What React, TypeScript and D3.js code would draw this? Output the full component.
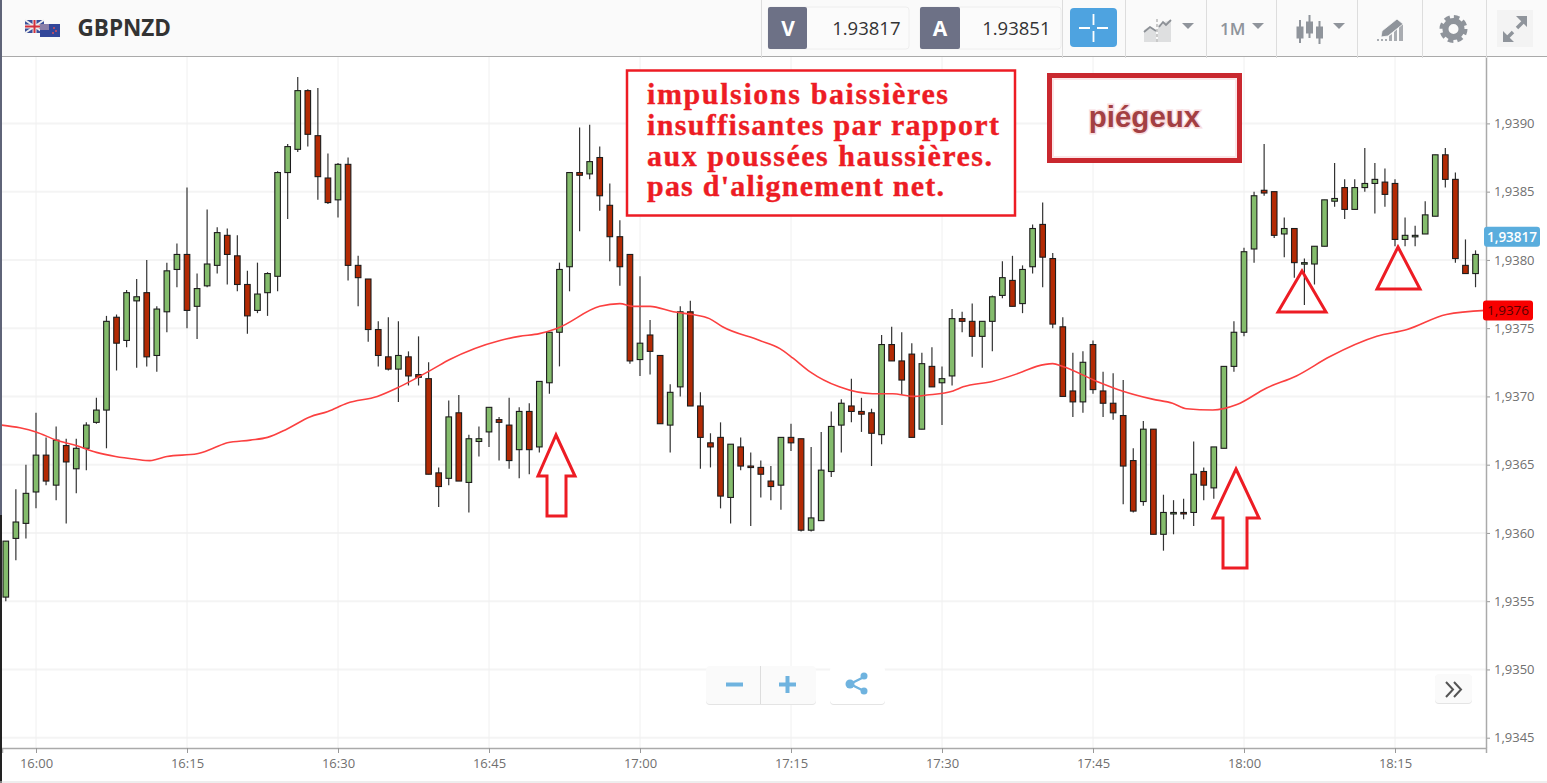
import React, { useEffect, useRef } from "react";
import * as d3 from "d3";

// quotes are stored in points above 1.93000 (817 -> 1.93817), one candle per minute
const BASE_PRICE = 1.93;
const FIRST_MINUTE = -3; // first candle is 15:57

const opens = [
  553,596,607,630,657,635,664,647,662,681,
  690,758,741,770,776,730,762,793,804,766,
  781,796,818,803,782,763,776,788,864,881,
  924,891,860,844,870,796,786,749,729,720,
  729,716,713,644,640,688,637,667,674,683,
  679,661,689,663,710,747,795,864,863,875,
  840,817,804,727,745,730,679,707,762,693,
  666,670,626,663,649,648,638,635,670,669,
  602,609,645,679,693,689,688,672,738,726,
  731,676,722,710,715,757,755,744,755,774,
  785,768,795,826,801,751,704,696,738,704,
  695,686,653,623,676,599,614,615,615,645,
  633,662,722,747,808,851,850,819,823,797,
  797,810,843,853,837,853,856,857,856,815,
  817,819,832,877,859,796,790,
];
const highs = [
  594,632,650,688,670,678,669,669,681,699,
  759,760,778,786,800,766,798,812,853,790,
  837,824,823,818,792,798,791,865,885,934,
  925,926,878,871,875,803,786,755,758,755,
  733,744,725,648,697,701,672,678,692,685,
  699,692,695,711,747,798,864,897,899,883,
  856,829,804,788,756,730,709,766,770,703,
  673,681,665,670,659,653,649,670,680,669,
  663,674,689,698,713,699,691,745,751,747,
  739,732,736,722,764,762,768,755,774,799,
  803,796,826,842,805,758,732,733,741,718,
  717,712,662,682,676,628,624,625,667,648,
  663,722,755,809,850,885,850,831,823,801,
  810,844,871,859,859,882,871,867,859,831,
  825,843,877,882,864,815,807,
];
const lows = [
  550,580,596,618,635,624,607,629,646,680,
  662,719,736,721,722,718,747,780,750,742,
  780,790,782,777,746,761,759,777,830,879,
  883,844,841,831,785,766,740,722,719,696,
  708,708,643,619,635,638,615,656,663,653,
  647,640,643,659,702,722,777,821,859,836,
  799,781,724,715,716,680,659,700,693,647,
  648,618,607,646,605,626,624,617,660,601,
  601,609,641,659,681,674,649,665,726,701,
  670,676,707,679,708,747,729,721,733,772,
  766,761,790,780,750,700,685,688,702,685,
  683,621,615,620,599,587,599,610,605,624,
  625,662,718,744,798,847,816,802,787,767,
  782,810,839,830,837,850,834,839,810,810,
  810,819,832,853,798,790,780,
];
const closes = [
  594,608,629,657,638,668,652,662,679,690,
  755,739,776,773,729,764,792,804,763,779,
  797,820,804,782,759,775,790,864,883,924,
  892,861,842,870,796,787,749,730,720,730,
  715,714,643,634,685,638,669,669,692,681,
  653,689,661,711,747,793,864,862,872,847,
  817,795,726,739,733,680,703,762,693,670,
  663,627,665,649,648,643,634,670,666,602,
  611,646,678,695,689,687,673,738,726,712,
  670,724,707,713,757,755,744,755,773,787,
  766,793,823,802,753,700,696,725,705,695,
  688,649,616,676,599,615,615,614,643,635,
  663,722,747,806,847,849,818,823,798,798,
  810,844,845,837,853,856,859,848,815,818,
  818,833,877,859,801,790,804,
];

const maMinutes = [
  -3.4,-1.6,0,2,4,6,7.9,9.9,11.3,12,13,16,17.6,19,21.3,23,24.9,27.2,29,30.9,33.9,36.1,39.4,41.1,
  46.1,48,50,51.8,56,58,59.3,61,63.3,65.2,66.9,68.2,71.9,73.9,75.2,76.9,79.8,83.1,85.1,87.1,88.5,
  91.1,92.1,95,98,99.4,101,102,105.4,107.9,110.9,112.9,114.3,116.9,119.3,122.2,125.2,128.5,133.2,
  136.2,140.1,144,
];
const maValues = [
  679,677,674,668,664,659,656,654,653,654,656,658,662,666,668,670,676,685,689,695,700,707,720,727,
  741,744,746,750,766,768,766,766,762,760,757,751,741,735,728,718,707,702,702,700,701,
  704,707,711,718,722,724,722,711,704,698,695,691,690,694,706,715,729,744,
  749,760,763,
];

const priceTicks = [1.9345, 1.935, 1.9355, 1.936, 1.9365, 1.937, 1.9375, 1.938, 1.9385, 1.939];
const timeTicks = [0, 15, 30, 45, 60, 75, 90, 105, 120, 135];
const timeLabels = ["16:00", "16:15", "16:30", "16:45", "17:00", "17:15", "17:30", "17:45", "18:00", "18:15"];
const noteLines = [
  "impulsions baissières",
  "insuffisantes par rapport",
  "aux poussées haussières.",
  "pas d'alignement net.",
];
const bidQuote = "1.93817";
const askQuote = "1.93851";
const bidPoints = 817;

const UI_FONT = "'Open Sans', sans-serif";
const ICON = "#8f949b";
const SEPARATORS = [761, 1062, 1125, 1206, 1276, 1357, 1422, 1486];

const pt = (p: number) => BASE_PRICE + p / 1e5;
const comma = (v: number, digits: number) => v.toFixed(digits).replace(".", ",");

const Caret = ({ x, y }: { x: number; y: number }) => (
  <path d={`M${x},${y}h12l-6,6z`} fill={ICON} />
);

const Toolbar = () => (
  <g fontFamily={UI_FONT}>
    <rect x={0} y={0} width={1547} height={56} fill="#fafafa" />
    <line x1={0} x2={1547} y1={56.5} y2={56.5} stroke="#aaa" />
    {SEPARATORS.map((x) => (
      <line key={x} x1={x + 0.5} x2={x + 0.5} y1={0} y2={58} stroke="#ddd" />
    ))}
    {/* flags */}
    <g>
      <rect x={25} y={20} width={19} height={13} fill="#3a4f9a" />
      <path d="M25,20L44,33M44,20L25,33" stroke="#eee" strokeWidth={2} />
      <path d="M34.5,20V33M25,26.500H44" stroke="#eee" strokeWidth={4} />
      <path d="M34.5,20V33M25,26.500H44" stroke="#d3313c" strokeWidth={2} />
      <rect x={40} y={24} width={20} height={13} fill="#33479a" />
      <rect x={40} y={24} width={9} height={6} fill="#8a7fa8" />
      <circle cx={54} cy={28} r={1} fill="#d9505c" />
      <circle cx={56} cy={31} r={1} fill="#d9505c" />
      <circle cx={53} cy={33} r={1} fill="#d9505c" />
    </g>
    <text x={77.5} y={36} fontSize={22.5} fontWeight={700} fill="#333">GBPNZD</text>

    {/* bid / ask */}
    <rect x={768} y={7} width={141} height={42} rx={3} fill="#fbfbfb" stroke="#eee" />
    <rect x={768} y={7} width={39} height={42} rx={2} fill="#6d7186" />
    <text x={788} y={35.500} fontSize={21} fontWeight={700} fill="#fff" textAnchor="middle">V</text>
    <text x={900.5} y={34.500} fontSize={18.5} fill="#333" textAnchor="end">{bidQuote}</text>
    <rect x={920} y={7} width={141} height={42} rx={3} fill="#fbfbfb" stroke="#eee" />
    <rect x={920} y={7} width={40} height={42} rx={2} fill="#6d7186" />
    <text x={940} y={35.500} fontSize={21} fontWeight={700} fill="#fff" textAnchor="middle">A</text>
    <text x={1050.5} y={34.500} fontSize={18.5} fill="#333" textAnchor="end">{askQuote}</text>

    {/* crosshair button */}
    <rect x={1070} y={8} width={47} height={39} rx={4} fill="#4ea3e0" />
    <path d="M1093.500,14v11M1093.500,31v11M1079,28h11M1097,28h11" stroke="#fff" strokeWidth={1.8} />

    {/* chart type */}
    <path d="M1144,42V30l6,-4l6,4V42z" fill="#dedfe0" />
    <path d="M1158,42V25l6,-3l7,-2V42z" fill="#dedfe0" />
    <path d="M1144,32l6,-5l6,4M1159,27l4,-5l3,3l5,-5" fill="none" stroke="#8c9096" strokeWidth={1.8} />
    <line x1={1157} x2={1157} y1={19} y2={42} stroke="#999" strokeDasharray="3 2" />
    <Caret x={1182} y={23} />

    <text x={1220} y={34.500} fontSize={17} fontWeight={600} fill={ICON}>1M</text>
    <Caret x={1252} y={23} />

    {/* candles icon */}
    {[[1300, 20, 43, 27, 38], [1309.5, 15, 38, 22, 33], [1319.5, 21, 44, 27, 38]].map(([x, a, b, c, d]) => (
      <g key={x} fill={ICON} stroke={ICON}>
        <line x1={x} x2={x} y1={a} y2={b} strokeWidth={2} />
        <rect x={x - 3} y={c} width={6} height={d - c} strokeWidth={1} />
      </g>
    ))}
    <Caret x={1333} y={23} />

    {/* drawing tool icon */}
    <path d="M1389,41V36l3,-2V41zM1394,41V32l3,-3V41zM1399,41V27l4,-4V41z" fill="#a9acb1" />
    <path d="M1381,37l1,-6l15,-12l6,5l-15,12z" fill={ICON} stroke="#fafafa" strokeWidth={0.8} />
    <line x1={1377} x2={1388} y1={40} y2={40} stroke={ICON} strokeDasharray="2 2" strokeWidth={1.5} />

    {/* gear */}
    <circle cx={1453.500} cy={29} r={8} fill="none" stroke={ICON} strokeWidth={6} />
    <circle cx={1453.500} cy={29} r={12} fill="none" stroke={ICON} strokeWidth={4} strokeDasharray="5.500 3.925" />

    {/* expand */}
    <rect x={1497} y={10} width={36} height={37} fill="#f3f3f3" />
    <path d="M1506,39l7,-7M1524,21l-7,7" stroke={ICON} strokeWidth={3.500} />
    <path d="M1503,31v11h11zM1527,16v11l-11,-11z" fill={ICON} />
  </g>
);

const ZoomButtons = () => (
  <g>
    <rect x={706} y={667} width={110} height={38} rx={4} fill="#e4e4e4" />
    <rect x={706} y={666} width={110} height={38} rx={4} fill="#fafafa" />
    <line x1={760.5} x2={760.5} y1={666} y2={704} stroke="#ddd" />
    <path d="M726,684.500h17M779,684.500h17M787.500,676v17" stroke="#6fb3df" strokeWidth={4} />
    <rect x={830} y={667} width={55} height={38} rx={4} fill="#e4e4e4" />
    <rect x={830} y={666} width={55} height={38} rx={4} fill="#fff" />
    <path d="M850,684L864,677M850,684L864,691" stroke="#6fb3df" strokeWidth={2.500} />
    <circle cx={850} cy={684} r={4.500} fill="#6fb3df" />
    <circle cx={864} cy={676} r={3.500} fill="#6fb3df" />
    <circle cx={864} cy={691} r={3.500} fill="#6fb3df" />
    <rect x={1435} y={675} width={37} height={29} rx={4} fill="#e4e4e4" />
    <rect x={1435} y={674} width={37} height={29} rx={4} fill="#fafafa" />
    <path d="M1446,682l7,7.500l-7,7.500M1454,682l7,7.500l-7,7.500" fill="none" stroke="#555" strokeWidth={2} />
  </g>
);

const Annotations = () => (
  <g fill="none" stroke="#ed1c24" strokeWidth={3}>
    <rect x={627} y={70.5} width={388} height={145} fill="#fff" strokeWidth={2.5} />
    <g stroke="#ed1c24" strokeWidth={0.35} fill="#ed1c24" fontFamily="'Liberation Serif', serif" fontWeight={700} fontSize={30}>
      {noteLines.map((line, i) => (
        <text
          key={line}
          x={647}
          y={[103.5, 135, 165.5, 196][i]}
          textLength={[301, 352, 345, 297][i]}
          lengthAdjust="spacing"
        >
          {line}
        </text>
      ))}
    </g>
    <rect x={1049.5} y={75.5} width={190} height={85} fill="#fff" stroke="#c9282f" strokeWidth={5} />
    <rect x={1053} y={79} width={183} height={78} fill="none" stroke="#fbe6e8" strokeWidth={2} />
    <text
      x={1144.5}
      y={127}
      textAnchor="middle"
      stroke="#f8dcdf"
      strokeWidth={3}
      paintOrder="stroke"
      fill="#a33f43"
      fontFamily="'Liberation Sans', sans-serif"
      fontWeight={700}
      fontSize={29.5}
    >
      piégeux
    </text>
    <path d="M556,435L575,476H566V516H547V476H538Z" />
    <path d="M1236,469L1259,518H1247V568H1223V518H1213Z" />
    <path d="M1302,271L1326,312H1278Z" />
    <path d="M1398,247L1420,289H1377Z" />
  </g>
);

const App: React.FC = () => {
  const ref = useRef<SVGGElement>(null);

  useEffect(() => {
    if (!ref.current) return;
    const g = d3.select(ref.current);
    g.selectAll("*").remove();

    // 16:00 sits at 36px and 18:15 at 1395px
    const pxPerMinute = (1395 - 36) / 135;
    const x = d3.scaleLinear()
      .domain([(2 - 36) / pxPerMinute, (1486 - 36) / pxPerMinute])
      .range([2, 1486]);
    const y = d3.scaleLinear().domain([1.9345, 1.939]).range([737.7, 123.4]);

    const left = 2;
    const right = 1486;
    const top = 57;
    const bottom = 748;

    // grid
    g.append("g").selectAll("line").data(priceTicks).enter().append("line")
      .attr("x1", left).attr("x2", right)
      .attr("y1", (d) => y(d)).attr("y2", (d) => y(d))
      .attr("stroke", "#f4f4f4").attr("stroke-width", 2);
    g.append("g").selectAll("line").data(timeTicks).enter().append("line")
      .attr("x1", (d) => x(d)).attr("x2", (d) => x(d))
      .attr("y1", top).attr("y2", bottom)
      .attr("stroke", "#f0f0f0").attr("stroke-width", 1);

    // candles
    const candles = opens.map((o, i) => ({
      minute: i + FIRST_MINUTE,
      open: pt(o),
      high: pt(highs[i]),
      low: pt(lows[i]),
      close: pt(closes[i]),
    }));
    const candle = g.append("g").selectAll("g").data(candles).enter().append("g");
    candle.append("line")
      .attr("x1", (d) => x(d.minute)).attr("x2", (d) => x(d.minute))
      .attr("y1", (d) => y(d.high)).attr("y2", (d) => y(d.low))
      .attr("stroke", "#333").attr("stroke-width", 1.2);
    candle.append("rect")
      .attr("x", (d) => x(d.minute) - 2.8)
      .attr("width", 5.6)
      .attr("y", (d) => y(Math.max(d.open, d.close)))
      .attr("height", (d) => Math.max(1.5, Math.abs(y(d.open) - y(d.close))))
      .attr("fill", (d) => (d.close >= d.open ? "#84bc6c" : "#b32a04"))
      .attr("stroke", "#1c1c1c").attr("stroke-width", 1.1);

    // moving average
    const maLine = d3.line<number>()
      .x((_, i) => x(maMinutes[i]))
      .y((d) => y(pt(d)))
      .curve(d3.curveMonotoneX);
    g.append("path")
      .attr("d", maLine(maValues))
      .attr("fill", "none")
      .attr("stroke", "#fb4040")
      .attr("stroke-width", 1.6);

    // axes
    const yAxis = g.append("g")
      .attr("transform", `translate(${right},0)`)
      .call(d3.axisRight(y).tickValues(priceTicks).tickSize(4).tickPadding(4).tickFormat((d) => comma(+d, 4)));
    yAxis.select(".domain").remove();
    g.append("line").attr("x1", right + 0.5).attr("x2", right + 0.5).attr("y1", top).attr("y2", bottom)
      .attr("stroke", "#aaa").attr("stroke-width", 1.5);

    const xAxis = g.append("g")
      .attr("transform", `translate(0,${bottom})`)
      .call(d3.axisBottom(x).tickValues(timeTicks).tickSize(5).tickPadding(6).tickFormat((_, i) => timeLabels[i]));
    xAxis.select(".domain").attr("stroke", "#aaa").attr("stroke-width", 1.5);

    for (const axis of [yAxis, xAxis]) {
      axis.selectAll("text").attr("fill", "#707070").attr("font-size", 13).attr("font-family", UI_FONT);
      axis.selectAll(".tick line").attr("stroke", "#999");
    }

    // live price tags on the axis
    const bidY = y(pt(bidPoints));
    g.append("rect").attr("x", 1484).attr("y", bidY - 10).attr("width", 56).attr("height", 20).attr("rx", 3).attr("fill", "#5aaddd");
    g.append("text").attr("x", 1512).attr("y", bidY + 5).attr("text-anchor", "middle")
      .attr("font-family", UI_FONT).attr("font-size", 13.5).attr("font-weight", 600).attr("fill", "#fff")
      .text(comma(pt(bidPoints), 5));
    const maY = y(pt(maValues[maValues.length - 1]));
    g.append("rect").attr("x", 1483).attr("y", maY - 10).attr("width", 50).attr("height", 20).attr("rx", 3).attr("fill", "#f80000");
    g.append("text").attr("x", 1508).attr("y", maY + 5).attr("text-anchor", "middle")
      .attr("font-family", UI_FONT).attr("font-size", 13.5).attr("fill", "#5a0000")
      .text(comma(pt(maValues[maValues.length - 1]), 4));
  }, []);

  return (
    <svg width={1547} height={783} style={{ position: "absolute", left: 0, top: 0, display: "block" }}>
      <rect width={1547} height={783} fill="#fff" />
      <g ref={ref} />
      <Annotations />
      <ZoomButtons />
      <Toolbar />
      <rect x={0} y={0} width={2} height={783} fill="#5f6478" />
      <rect x={0} y={515} width={2} height={268} fill="#222" />
      <line x1={0} x2={1547} y1={782} y2={782} stroke="#ddd" />
    </svg>
  );
};

export default App;
